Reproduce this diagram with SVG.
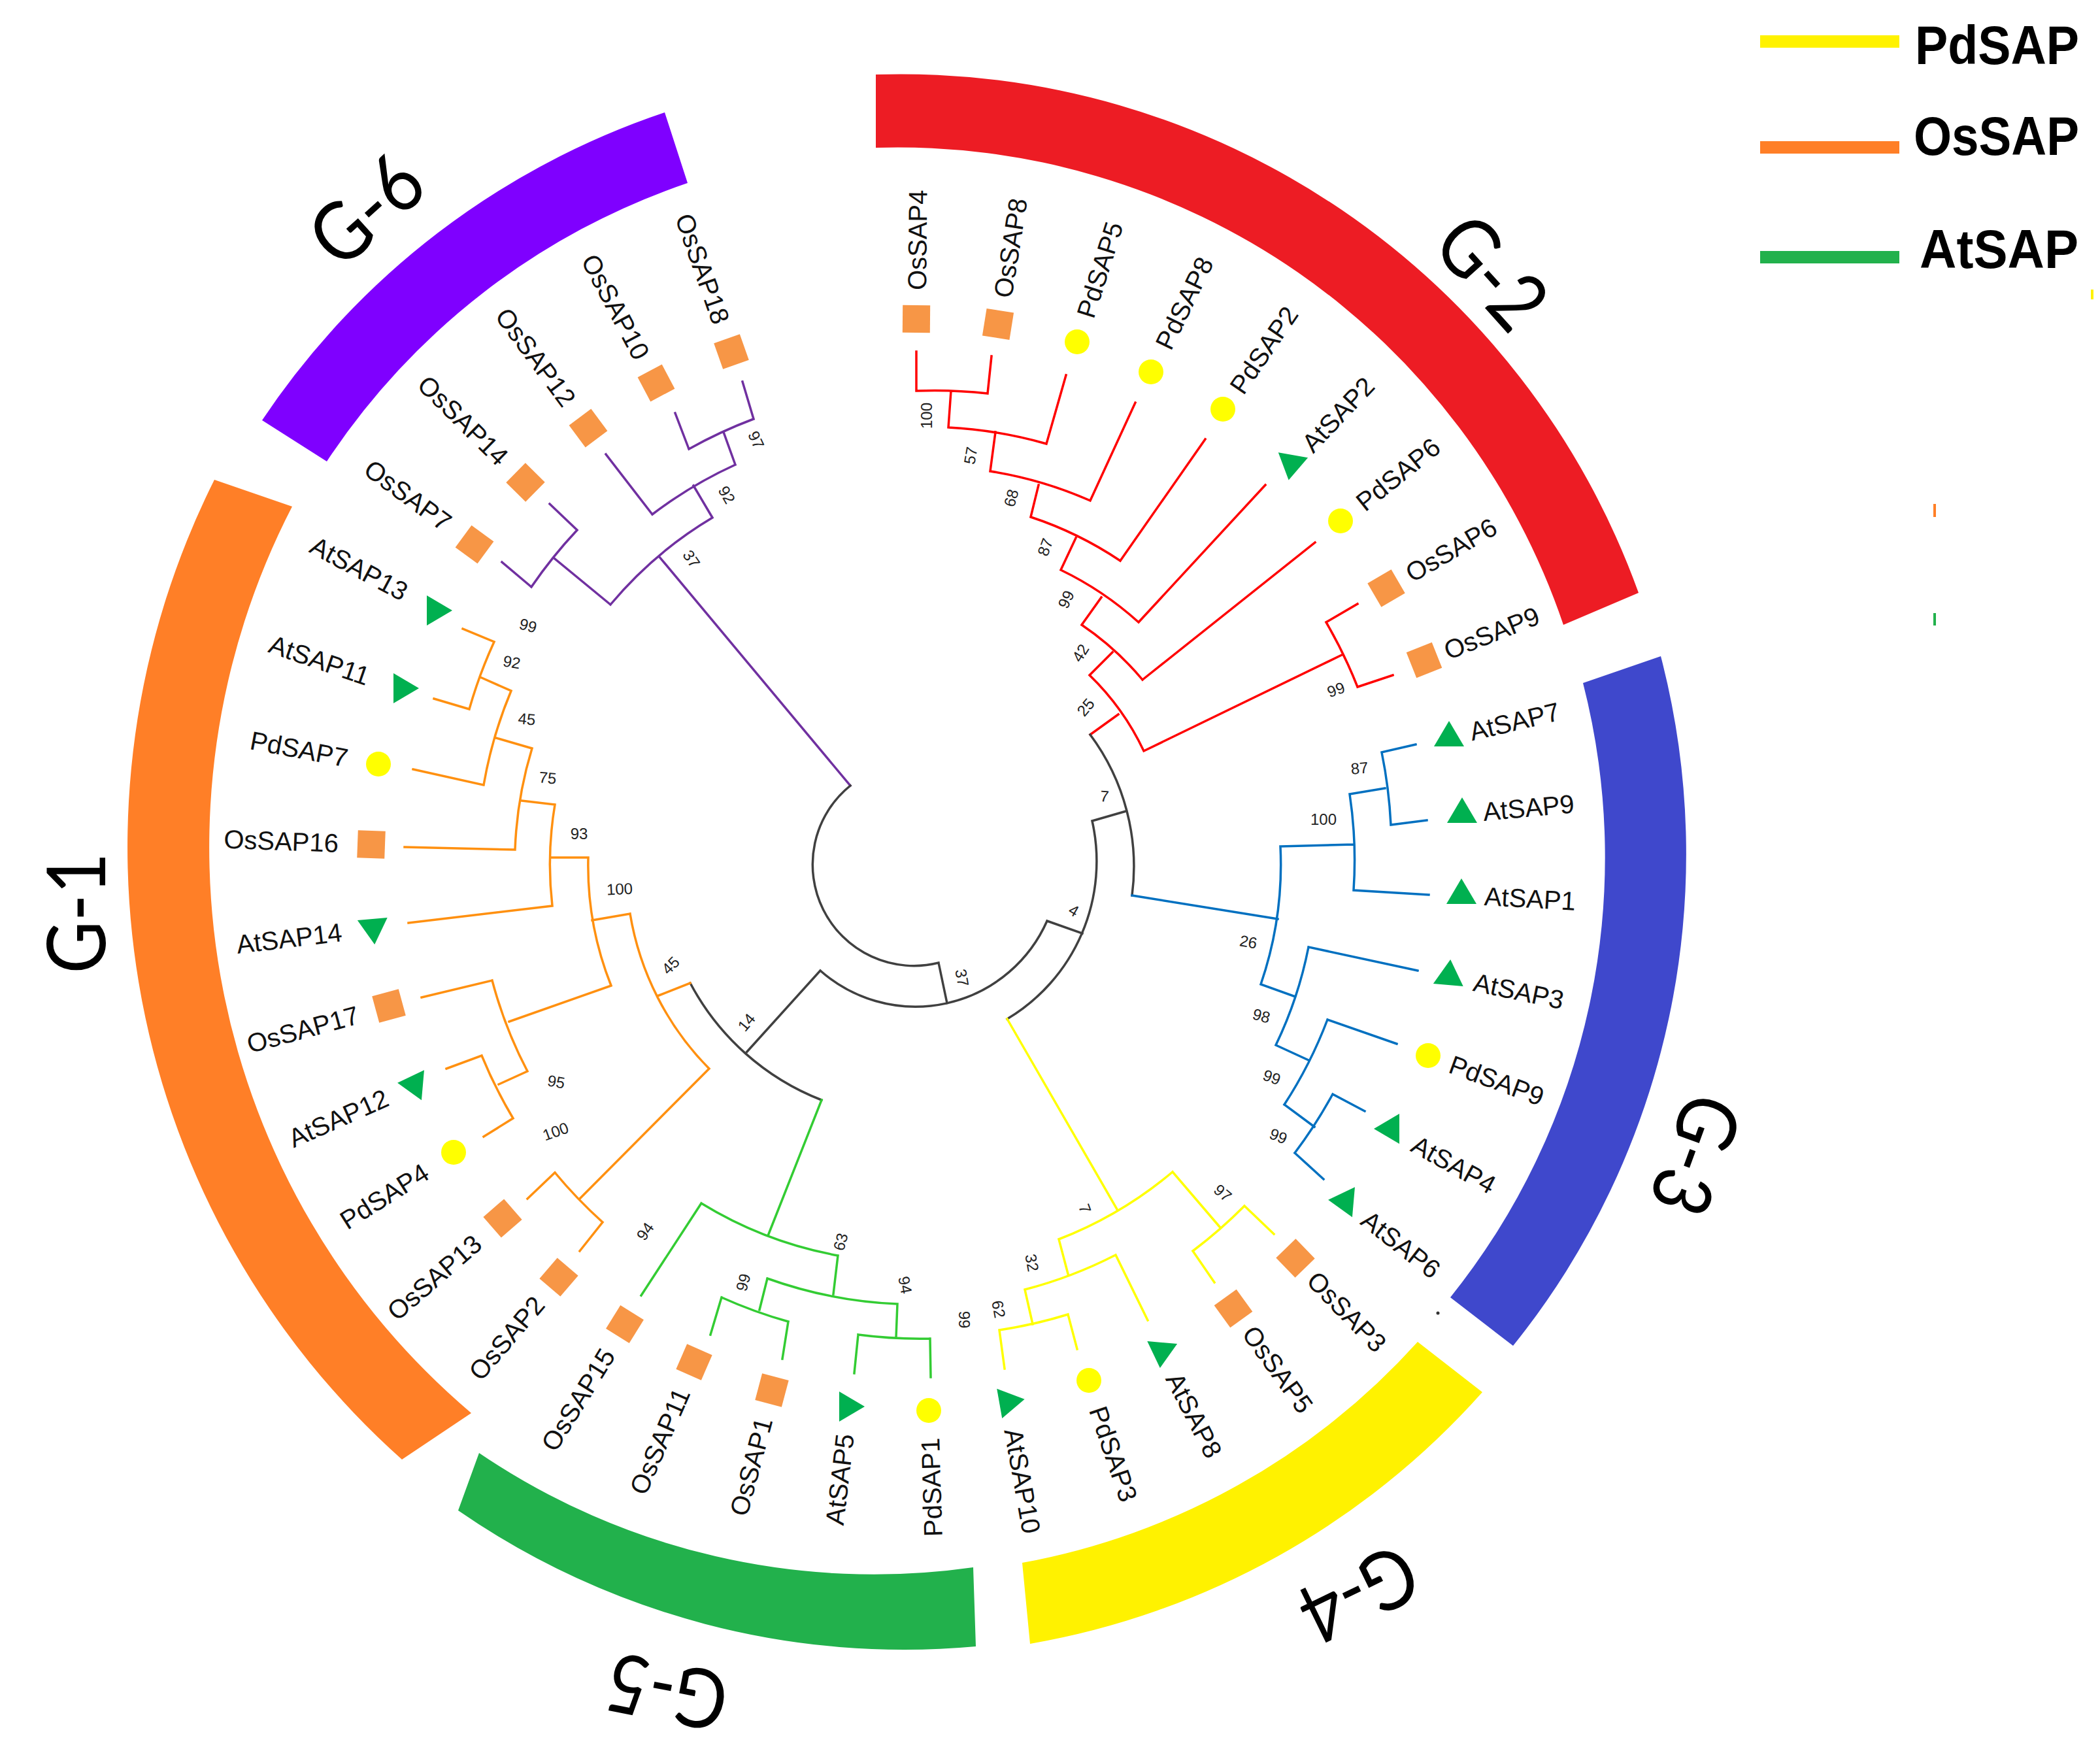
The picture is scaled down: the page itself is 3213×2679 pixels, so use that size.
<svg xmlns="http://www.w3.org/2000/svg" width="3213" height="2679" viewBox="0 0 3213 2679">
<style>
.lb{font-family:"Liberation Sans",Arial,sans-serif;font-size:40px;fill:#111;dominant-baseline:central}
.r{text-anchor:start}
.l{text-anchor:end}
.bs{font-family:"Liberation Sans",Arial,sans-serif;font-size:24px;fill:#222;text-anchor:middle;dominant-baseline:central}
.gl{font-family:Lato,"Liberation Sans",sans-serif;font-weight:400;font-size:125px;fill:#000;text-anchor:middle;dominant-baseline:central}
.lg{font-family:"Liberation Sans",Arial,sans-serif;font-weight:bold;font-size:84px;fill:#000}
.br{fill:none;stroke-width:3.5;stroke-linecap:square;stroke-linejoin:miter}
.sqf{fill:#f79646}
.cif{fill:#ffff00}
.trf{fill:#00b050}
</style>
<defs>
<rect id="sq" class="sqf" x="-21" y="-21" width="42" height="42"/>
<circle id="ci" class="cif" r="19"/>
<polygon id="tr" class="trf" points="25,0 -14,-23 -14,23"/>
</defs>
<rect width="3213" height="2679" fill="#fff"/>

<g id="group-bars">
<path id="bar-G2" d="M1340,114 A1200,1200 0 0 1 2507,907 L2392,956 A1075,1075 0 0 0 1340,226 Z" fill="#ed1c24"/>
<path id="bar-G3" d="M2541,1004 A1200,1200 0 0 1 2315,2059 L2219,1985 A1075,1075 0 0 0 2422,1045 Z" fill="#3f48cc"/>
<path id="bar-G4" d="M2268,2130 A1200,1200 0 0 1 1576,2515 L1564,2391 A1075,1075 0 0 0 2169,2053 Z" fill="#fff200"/>
<path id="bar-G5" d="M1493,2519 A1200,1200 0 0 1 701,2311 L733,2223 A1075,1075 0 0 0 1489,2398 Z" fill="#22b14c"/>
<path id="bar-G1" d="M615,2233 A1255,1255 0 0 1 328,734 L447,775 A1135,1135 0 0 0 721,2162 Z" fill="#ff7f27"/>
<path id="bar-G6" d="M401,643 A1200,1200 0 0 1 1017,172 L1052,280 A1075,1075 0 0 0 500,706 Z" fill="#7f00ff"/>
</g>

<g id="group-labels">
<text class="gl" textLength="185" lengthAdjust="spacingAndGlyphs" transform="translate(113,1397) rotate(-90)">G-1</text>
<text class="gl" textLength="185" lengthAdjust="spacingAndGlyphs" transform="translate(2285,414) rotate(48)">G-2</text>
<text class="gl" textLength="185" lengthAdjust="spacingAndGlyphs" transform="translate(2598,1768) rotate(110)">G-3</text>
<text class="gl" textLength="185" lengthAdjust="spacingAndGlyphs" transform="translate(2080,2442) rotate(154)">G-4</text>
<text class="gl" textLength="185" lengthAdjust="spacingAndGlyphs" transform="translate(1020,2592) rotate(191)">G-5</text>
<text class="gl" textLength="185" lengthAdjust="spacingAndGlyphs" transform="translate(558,318) rotate(-42)">G-6</text>
</g>

<g id="connectors">
<path class="br" stroke="#7030a0" d="M1136,584 L1153,641 M1033,632 L1054,687 M1054,687 A722,722 0 0 1 1153,641 M1107,661 L1125,711 M927,695 L998,787 M998,787 A667,667 0 0 1 1125,711 M1061,743 L1090,792 M841,771 L883,811 M768,860 L813,898 M813,898 A720,720 0 0 1 883,811 M849,855 L934,925 M934,925 A609,609 0 0 1 1090,792 M1008,851 L1301,1202"/>
<path class="br" stroke="#ff0000" d="M1402,538 L1402,598 M1517,545 L1511,602 M1402,598 A726,726 0 0 1 1511,602 M1455,598 L1451,654 M1631,574 L1601,679 M1451,654 A672,672 0 0 1 1601,679 M1523,661 L1515,721 M1737,616 L1668,766 M1515,721 A615,615 0 0 1 1668,766 M1589,742 L1577,791 M1844,672 L1714,858 M1577,791 A560,560 0 0 1 1714,858 M1646,823 L1623,872 M1936,742 L1742,952 M1623,872 A505,505 0 0 1 1742,952 M1685,914 L1655,956 M2012,830 L1748,1040 M1655,956 A450,450 0 0 1 1748,1040 M1702,998 L1667,1033 M2077,924 L2029,952 M2131,1033 L2077,1051 M2029,952 A732,732 0 0 1 2077,1051 M2053,1002 L1750,1149 M1667,1033 A396,396 0 0 1 1750,1149 M1711,1093 L1668,1124"/>
<path class="br" stroke="#404040" stroke-width="3" d="M1668,1124 A338,338 0 0 1 1732,1370 M1723,1241 L1671,1256 M1671,1256 A281,281 0 0 1 1541,1559 M1656,1428 L1602,1409 M1602,1409 A220,220 0 0 1 1255,1485 M1449,1535 L1436,1473 M1436,1473 A155,155 0 0 1 1301,1202 M1255,1485 L1143,1609 M1257,1683 A386,386 0 0 1 1056,1504"/>
<path class="br" stroke="#0070c0" d="M1732,1370 L1955,1406 M1959,1295 A565,565 0 0 1 1929,1506 M1959,1295 L2071,1292 M2065,1215 A677,677 0 0 1 2071,1362 M2065,1215 L2119,1206 M2114,1151 A737,737 0 0 1 2128,1262 M2114,1151 L2166,1139 M2128,1262 L2183,1255 M2071,1362 L2186,1369 M1929,1506 L1982,1525 M2002,1449 A621,621 0 0 1 1952,1599 M2002,1449 L2169,1485 M1952,1599 L2002,1622 M2031,1560 A678,678 0 0 1 1965,1690 M2031,1560 L2137,1597 M1965,1690 L2011,1724 M2039,1674 A735,735 0 0 1 1981,1764 M2039,1674 L2088,1700 M1981,1764 L2025,1804"/>
<path class="br" stroke="#ffff00" d="M1541,1559 L1709,1850 M1794,1793 A617,617 0 0 1 1620,1896 M1794,1793 L1866,1877 M1904,1845 A731,731 0 0 1 1825,1914 M1904,1845 L1949,1888 M1825,1914 L1858,1962 M1620,1896 L1634,1949 M1707,1920 A674,674 0 0 1 1568,1973 M1707,1920 L1756,2020 M1568,1973 L1580,2026 M1634,2011 A727,727 0 0 1 1529,2035 M1634,2011 L1648,2064 M1529,2035 L1537,2094"/>
<path class="br" stroke="#33cc33" d="M1257,1683 L1176,1888 M1282,1921 A610,610 0 0 1 1073,1841 M1073,1841 L981,1982 M1282,1921 L1275,1980 M1373,1995 A672,672 0 0 1 1174,1956 M1174,1956 L1162,2004 M1206,2022 A724,724 0 0 1 1104,1985 M1104,1985 L1087,2042 M1206,2022 L1197,2079 M1373,1995 L1371,2046 M1423,2048 A726,726 0 0 1 1313,2042 M1313,2042 L1307,2101 M1423,2048 L1424,2107"/>
<path class="br" stroke="#ff9010" d="M1056,1504 L1008,1523 M1085,1635 A439,439 0 0 1 964,1398 M1085,1635 L887,1834 M922,1870 A723,723 0 0 1 849,1794 M922,1870 L887,1914 M849,1794 L807,1834 M964,1398 L906,1408 M935,1508 A496,496 0 0 1 900,1312 M935,1508 L779,1563 M807,1639 A667,667 0 0 1 753,1500 M753,1500 L645,1526 M807,1639 L763,1659 M785,1711 A721,721 0 0 1 737,1615 M737,1615 L683,1635 M785,1711 L740,1739 M900,1312 L845,1312 M845,1386 A553,553 0 0 1 849,1231 M845,1386 L625,1412 M849,1231 L798,1225 M788,1300 A607,607 0 0 1 814,1145 M788,1300 L619,1296 M814,1145 L759,1129 M740,1201 A667,667 0 0 1 782,1057 M740,1201 L632,1177 M782,1057 L737,1037 M718,1085 A720,720 0 0 1 756,982 M718,1085 L664,1069 M756,982 L708,962"/>
</g>

<g id="bootstrap">
<text class="bs" transform="translate(1157,673) rotate(65)">97</text>
<text class="bs" transform="translate(1112,757) rotate(60)">92</text>
<text class="bs" transform="translate(1058,855) rotate(55)">37</text>
<text class="bs" transform="translate(1417,636) rotate(-90)">100</text>
<text class="bs" transform="translate(1485,697) rotate(-80)">57</text>
<text class="bs" transform="translate(1547,762) rotate(-75)">68</text>
<text class="bs" transform="translate(1599,837) rotate(-70)">87</text>
<text class="bs" transform="translate(1631,917) rotate(-65)">99</text>
<text class="bs" transform="translate(1653,999) rotate(-58)">42</text>
<text class="bs" transform="translate(1661,1082) rotate(-50)">25</text>
<text class="bs" transform="translate(2044,1055) rotate(-20)">99</text>
<text class="bs" transform="translate(1690,1218) rotate(5)">7</text>
<text class="bs" transform="translate(1643,1393) rotate(30)">4</text>
<text class="bs" transform="translate(1472,1496) rotate(80)">37</text>
<text class="bs" transform="translate(1142,1564) rotate(-50)">14</text>
<text class="bs" transform="translate(1026,1477) rotate(-45)">45</text>
<text class="bs" transform="translate(2080,1175) rotate(-5)">87</text>
<text class="bs" transform="translate(2025,1253) rotate(0)">100</text>
<text class="bs" transform="translate(1910,1441) rotate(10)">26</text>
<text class="bs" transform="translate(1930,1554) rotate(15)">98</text>
<text class="bs" transform="translate(1946,1648) rotate(20)">99</text>
<text class="bs" transform="translate(1956,1738) rotate(22)">99</text>
<text class="bs" transform="translate(1660,1849) rotate(70)">7</text>
<text class="bs" transform="translate(1871,1825) rotate(40)">97</text>
<text class="bs" transform="translate(1579,1932) rotate(80)">32</text>
<text class="bs" transform="translate(1528,2003) rotate(80)">62</text>
<text class="bs" transform="translate(1286,1900) rotate(-75)">63</text>
<text class="bs" transform="translate(1137,1962) rotate(-75)">99</text>
<text class="bs" transform="translate(1385,1966) rotate(80)">94</text>
<text class="bs" transform="translate(1475,2019) rotate(90)">99</text>
<text class="bs" transform="translate(808,957) rotate(15)">99</text>
<text class="bs" transform="translate(783,1013) rotate(10)">92</text>
<text class="bs" transform="translate(806,1100) rotate(5)">45</text>
<text class="bs" transform="translate(838,1190) rotate(5)">75</text>
<text class="bs" transform="translate(886,1275) rotate(0)">93</text>
<text class="bs" transform="translate(948,1360) rotate(-3)">100</text>
<text class="bs" transform="translate(851,1655) rotate(10)">95</text>
<text class="bs" transform="translate(850,1731) rotate(-20)">100</text>
<text class="bs" transform="translate(987,1884) rotate(-55)">94</text>
</g>

<g id="leaves">
<g id="OsSAP4"><use href="#sq" transform="translate(1402,488) rotate(-89.5)"/><text class="lb r" transform="translate(1403,444) rotate(-89.5)">OsSAP4</text></g>
<g id="OsSAP8"><use href="#sq" transform="translate(1527,496) rotate(-80.9)"/><text class="lb r" transform="translate(1534,455) rotate(-80.9)">OsSAP8</text></g>
<g id="PdSAP5"><use href="#ci" transform="translate(1648,523)"/><text class="lb r" transform="translate(1660,485) rotate(-72.4)">PdSAP5</text></g>
<g id="PdSAP8"><use href="#ci" transform="translate(1761,569)"/><text class="lb r" transform="translate(1779,532) rotate(-64.1)">PdSAP8</text></g>
<g id="PdSAP2"><use href="#ci" transform="translate(1871,626)"/><text class="lb r" transform="translate(1891,598) rotate(-55.6)">PdSAP2</text></g>
<g id="AtSAP2"><use href="#tr" transform="translate(1976,710) rotate(100)"/><text class="lb r" transform="translate(1999,685) rotate(-46.5)">AtSAP2</text></g>
<g id="PdSAP6"><use href="#ci" transform="translate(2051,797)"/><text class="lb r" transform="translate(2080,773) rotate(-38.7)">PdSAP6</text></g>
<g id="OsSAP6"><use href="#sq" transform="translate(2121,900) rotate(-30.2)"/><text class="lb r" transform="translate(2154,880) rotate(-30.2)">OsSAP6</text></g>
<g id="OsSAP9"><use href="#sq" transform="translate(2179,1010) rotate(-21.7)"/><text class="lb r" transform="translate(2211,997) rotate(-21.7)">OsSAP9</text></g>
<g id="AtSAP7"><use href="#tr" transform="translate(2217,1128) rotate(-90)"/><text class="lb r" transform="translate(2249,1120) rotate(-13.3)">AtSAP7</text></g>
<g id="AtSAP9"><use href="#tr" transform="translate(2237,1245) rotate(-90)"/><text class="lb r" transform="translate(2269,1242) rotate(-5.2)">AtSAP9</text></g>
<g id="AtSAP1"><use href="#tr" transform="translate(2236,1369) rotate(-90)"/><text class="lb r" transform="translate(2271,1371) rotate(3.2)">AtSAP1</text></g>
<g id="AtSAP3"><use href="#tr" transform="translate(2217,1493) rotate(-85)"/><text class="lb r" transform="translate(2255,1502) rotate(11.8)">AtSAP3</text></g>
<g id="PdSAP9"><use href="#ci" transform="translate(2185,1615)"/><text class="lb r" transform="translate(2219,1627) rotate(20.3)">PdSAP9</text></g>
<g id="AtSAP4"><use href="#tr" transform="translate(2127,1727) rotate(180)"/><text class="lb r" transform="translate(2163,1748) rotate(29)">AtSAP4</text></g>
<g id="AtSAP6"><use href="#tr" transform="translate(2057,1838) rotate(185)"/><text class="lb r" transform="translate(2088,1861) rotate(37.9)">AtSAP6</text></g>
<g id="OsSAP3"><use href="#sq" transform="translate(1982,1925) rotate(45.8)"/><text class="lb r" transform="translate(2007,1952) rotate(45.8)">OsSAP3</text></g>
<g id="OsSAP5"><use href="#sq" transform="translate(1887,2002) rotate(54.1)"/><text class="lb r" transform="translate(1910,2033) rotate(54.1)">OsSAP5</text></g>
<g id="AtSAP8"><use href="#tr" transform="translate(1777,2068) rotate(95)"/><text class="lb r" transform="translate(1795,2103) rotate(62.9)">AtSAP8</text></g>
<g id="PdSAP3"><use href="#ci" transform="translate(1666,2112)"/><text class="lb r" transform="translate(1679,2153) rotate(71.1)">PdSAP3</text></g>
<g id="AtSAP10"><use href="#tr" transform="translate(1543,2145) rotate(-10)"/><text class="lb r" transform="translate(1550,2186) rotate(79.8)">AtSAP10</text></g>
<g id="PdSAP1"><use href="#ci" transform="translate(1421,2158)"/><text class="lb l" transform="translate(1423,2200) rotate(-91.8)">PdSAP1</text></g>
<g id="AtSAP5"><use href="#tr" transform="translate(1298,2152) rotate(0)"/><text class="lb l" transform="translate(1293,2194) rotate(-83.3)">AtSAP5</text></g>
<g id="OsSAP1"><use href="#sq" transform="translate(1181,2127) rotate(104.9)"/><text class="lb l" transform="translate(1169,2170) rotate(-75.1)">OsSAP1</text></g>
<g id="OsSAP11"><use href="#sq" transform="translate(1062,2084) rotate(113.6)"/><text class="lb l" transform="translate(1044,2126) rotate(-66.4)">OsSAP11</text></g>
<g id="OsSAP15"><use href="#sq" transform="translate(956,2026) rotate(121.9)"/><text class="lb l" transform="translate(931,2067) rotate(-58.1)">OsSAP15</text></g>
<g id="OsSAP2"><use href="#sq" transform="translate(855,1954) rotate(130.5)"/><text class="lb l" transform="translate(825,1989) rotate(-49.5)">OsSAP2</text></g>
<g id="OsSAP13"><use href="#sq" transform="translate(769,1864) rotate(139.1)"/><text class="lb l" transform="translate(731,1897) rotate(-40.9)">OsSAP13</text></g>
<g id="PdSAP4"><use href="#ci" transform="translate(694,1763)"/><text class="lb l" transform="translate(652,1790) rotate(-32.2)">PdSAP4</text></g>
<g id="AtSAP12"><use href="#tr" transform="translate(633,1659) rotate(185)"/><text class="lb l" transform="translate(592,1678) rotate(-23.9)">AtSAP12</text></g>
<g id="OsSAP17"><use href="#sq" transform="translate(595,1539) rotate(164.8)"/><text class="lb l" transform="translate(548,1552) rotate(-15.2)">OsSAP17</text></g>
<g id="AtSAP14"><use href="#tr" transform="translate(571,1420) rotate(85)"/><text class="lb l" transform="translate(523,1426) rotate(-6.8)">AtSAP14</text></g>
<g id="OsSAP16"><use href="#sq" transform="translate(568,1292) rotate(182.1)"/><text class="lb l" transform="translate(518,1290) rotate(2.1)">OsSAP16</text></g>
<g id="PdSAP7"><use href="#ci" transform="translate(579,1169)"/><text class="lb l" transform="translate(532,1160) rotate(10.6)">PdSAP7</text></g>
<g id="AtSAP11"><use href="#tr" transform="translate(616,1053) rotate(0)"/><text class="lb l" transform="translate(564,1036) rotate(19)">AtSAP11</text></g>
<g id="AtSAP13"><use href="#tr" transform="translate(667,934) rotate(0)"/><text class="lb l" transform="translate(621,908) rotate(28.1)">AtSAP13</text></g>
<g id="OsSAP7"><use href="#sq" transform="translate(726,833) rotate(216.2)"/><text class="lb l" transform="translate(686,803) rotate(36.2)">OsSAP7</text></g>
<g id="OsSAP14"><use href="#sq" transform="translate(804,738) rotate(224.7)"/><text class="lb l" transform="translate(771,705) rotate(44.7)">OsSAP14</text></g>
<g id="OsSAP12"><use href="#sq" transform="translate(900,655) rotate(233.4)"/><text class="lb l" transform="translate(872,617) rotate(53.4)">OsSAP12</text></g>
<g id="OsSAP10"><use href="#sq" transform="translate(1004,586) rotate(242)"/><text class="lb l" transform="translate(983,547) rotate(62)">OsSAP10</text></g>
<g id="OsSAP18"><use href="#sq" transform="translate(1119,538) rotate(250.6)"/><text class="lb l" transform="translate(1104,494) rotate(70.6)">OsSAP18</text></g>
</g>

<g id="legend">
<rect x="2693" y="54" width="213" height="19" fill="#fff200"/>
<rect x="2693" y="216" width="213" height="19" fill="#ff7f27"/>
<rect x="2693" y="384" width="213" height="19" fill="#22b14c"/>
<text class="lg" x="2930" y="98" textLength="251" lengthAdjust="spacingAndGlyphs">PdSAP</text>
<text class="lg" x="2928" y="237" textLength="253" lengthAdjust="spacingAndGlyphs">OsSAP</text>
<text class="lg" x="2937" y="410" textLength="243" lengthAdjust="spacingAndGlyphs">AtSAP</text>
</g>

<g id="marks">
<rect x="2958" y="771" width="4" height="20" fill="#ff7f27"/>
<rect x="2958" y="938" width="4" height="19" fill="#22b14c"/>
<rect x="3199" y="443" width="4" height="15" fill="#fff200"/>
<circle cx="2200" cy="2009" r="2.5" fill="#333"/>
</g>
</svg>
